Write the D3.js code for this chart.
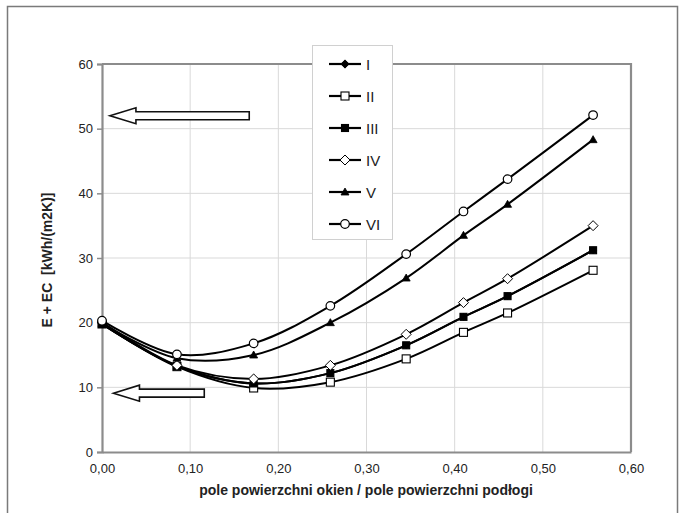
<!DOCTYPE html>
<html>
<head>
<meta charset="utf-8">
<script src="https://cdn.jsdelivr.net/npm/d3@7/dist/d3.min.js"></script>
<style>
  html, body { margin: 0; padding: 0; background: #fff; }
  svg { display: block; font-family: "Liberation Sans", Arial, sans-serif; }
</style>
</head>
<body>
<svg id="chart" width="681" height="513"></svg>
<script>
// Window-to-floor area ratio (x) and E + EC energy demand per series
const ratio = [0, 0.085, 0.172, 0.259, 0.345, 0.41, 0.46, 0.557];
const seriesNames = ["I", "II", "III", "IV", "V", "VI"];
const valuesI   = [19.8, 13.3, 10.6, 12.2, 16.5, 20.9, 24.1, 31.2];
const valuesII  = [19.8, 13.2, 9.9, 10.8, 14.4, 18.5, 21.5, 28.1];
const valuesIII = [19.8, 13.3, 10.6, 12.2, 16.5, 20.9, 24.1, 31.2];
const valuesIV  = [20.1, 13.4, 11.3, 13.4, 18.2, 23.1, 26.8, 35.0];
const valuesV   = [19.9, 14.5, 15.0, 20.0, 26.9, 33.5, 38.3, 48.3];
const valuesVI  = [20.3, 15.1, 16.8, 22.6, 30.6, 37.2, 42.2, 52.1];
const markerKinds = ["diamondFilled", "squareOpen", "squareFilled", "diamondOpen", "triangleFilled", "circleOpen"];
const xTicks = [0, 0.1, 0.2, 0.3, 0.4, 0.5, 0.6];
const yTicks = [0, 10, 20, 30, 40, 50, 60];
const xTitle = "pole powierzchni okien / pole powierzchni podłogi";
const yTitle = "E + EC  [kWh/(m2K)]";
// Arrows pointing at the value axis: [x start, x end, y value]
const arrowSpecs = [[0.009, 0.167, 52.0], [0.013, 0.116, 9.1]];

const allValues = [valuesI, valuesII, valuesIII, valuesIV, valuesV, valuesVI];
const series = seriesNames.map((name, i) => ({
  name, kind: markerKinds[i],
  points: ratio.map((r, j) => ({ x: r, y: allValues[i][j] }))
}));

const svg = d3.select("#chart");
const fmtX = d => d.toFixed(2).replace(".", ",");

const x = d3.scaleLinear().domain([0, 0.6]).range([102, 631]);
const y = d3.scaleLinear().domain([0, 60]).range([452, 64]);

// outer frame of the figure
svg.append("rect")
  .attr("x", 7.5).attr("y", 6.5).attr("width", 670).attr("height", 520)
  .attr("fill", "none").attr("stroke", "#7a7a7a").attr("stroke-width", 1.5);

// gridlines
const grid = svg.append("g");
grid.selectAll("line.gx").data(xTicks.slice(1, -1)).join("line")
  .attr("x1", d => x(d)).attr("x2", d => x(d))
  .attr("y1", y(60)).attr("y2", y(0))
  .attr("stroke", "#d9d9d9").attr("stroke-width", 1);
grid.selectAll("line.gy").data(yTicks.slice(1, -1)).join("line")
  .attr("x1", x(0)).attr("x2", x(0.6))
  .attr("y1", d => y(d)).attr("y2", d => y(d))
  .attr("stroke", "#d9d9d9").attr("stroke-width", 1);

// plot area border (top and right)
svg.append("path")
  .attr("d", `M${x(0)},${y(60)}H${x(0.6)}V${y(0)}`)
  .attr("fill", "none").attr("stroke", "#8c8c8c").attr("stroke-width", 2.2);

// axes
const xAxis = svg.append("g").attr("transform", `translate(0,${y(0)})`)
  .call(d3.axisBottom(x).tickValues(xTicks).tickFormat(fmtX).tickSize(0).tickPadding(12));
const yAxis = svg.append("g").attr("transform", `translate(${x(0)},0)`)
  .call(d3.axisLeft(y).tickValues(yTicks).tickFormat(d3.format("d")).tickSize(5).tickPadding(4));
[xAxis, yAxis].forEach(a => {
  a.select(".domain").attr("stroke", "#8c8c8c").attr("stroke-width", 2.2);
  a.selectAll(".tick line").attr("stroke", "#8c8c8c").attr("stroke-width", 1.5);
  a.selectAll("text").attr("font-family", "'Liberation Sans', Arial, sans-serif")
    .attr("font-size", 13).attr("fill", "#222");
});

// axis titles
svg.append("text")
  .attr("x", 366).attr("y", 495).attr("text-anchor", "middle")
  .attr("font-size", 14).attr("font-weight", "bold").attr("fill", "#222")
  .text(xTitle);
svg.append("text")
  .attr("transform", `translate(52,${(y(0) + y(60)) / 2 + 2}) rotate(-90)`)
  .attr("text-anchor", "middle")
  .attr("font-size", 14).attr("font-weight", "bold").attr("fill", "#222")
  .attr("xml:space", "preserve")
  .text(yTitle);

// hollow arrows
arrowSpecs.forEach(([x0, x1, v]) => {
  const tx = x(x0), ex = x(x1), cy = y(v);
  const hl = 26, hh = 8, sh = 4;
  const d = `M${tx},${cy} L${tx + hl},${cy - hh} L${tx + hl},${cy - sh} L${ex},${cy - sh}` +
            ` L${ex},${cy + sh} L${tx + hl},${cy + sh} L${tx + hl},${cy + hh} Z`;
  svg.append("path").attr("d", d).attr("fill", "#fff")
    .attr("stroke", "#111").attr("stroke-width", 1.6).attr("stroke-linejoin", "miter");
});

// marker drawing
function drawMarker(g, kind, cx, cy, scale = 1) {
  const filled = kind.endsWith("Filled");
  const fill = filled ? "#000" : "#fff";
  if (kind.startsWith("circle")) {
    g.append("circle").attr("cx", cx).attr("cy", cy).attr("r", 4.3)
      .attr("fill", fill).attr("stroke", "#000").attr("stroke-width", 1.2);
  } else if (kind.startsWith("square")) {
    const s = filled ? 7 : 8;
    g.append("rect").attr("x", cx - s / 2).attr("y", cy - s / 2).attr("width", s).attr("height", s)
      .attr("fill", fill).attr("stroke", "#000").attr("stroke-width", 1.1);
  } else if (kind.startsWith("diamond")) {
    const r = (filled ? 3.3 : 5) * scale;
    g.append("path").attr("d", `M${cx},${cy - r}L${cx + r},${cy}L${cx},${cy + r}L${cx - r},${cy}Z`)
      .attr("fill", fill).attr("stroke", "#000").attr("stroke-width", 1);
  } else if (kind.startsWith("triangle")) {
    const r = 4;
    g.append("path").attr("d", `M${cx},${cy - r}L${cx + r},${cy + r * 0.75}L${cx - r},${cy + r * 0.75}Z`)
      .attr("fill", fill).attr("stroke", "#000").attr("stroke-width", 0.8);
  }
}

// smoothed series lines
const line = d3.line().x(d => x(d.x)).y(d => y(d.y)).curve(d3.curveCatmullRom.alpha(0.5));
const plot = svg.append("g");
series.forEach(s => {
  plot.append("path").attr("d", line(s.points))
    .attr("fill", "none").attr("stroke", "#000").attr("stroke-width", 2);
});
series.forEach(s => {
  const g = plot.append("g");
  s.points.forEach(p => drawMarker(g, s.kind, x(p.x), y(p.y)));
});

// legend
const lg = svg.append("g");
lg.append("rect").attr("x", 312.5).attr("y", 45.5).attr("width", 80).attr("height", 194)
  .attr("fill", "#fff").attr("stroke", "#d0d0d0").attr("stroke-width", 1);
series.forEach((s, i) => {
  const cy = 64 + i * 32;
  lg.append("line").attr("x1", 329).attr("x2", 361).attr("y1", cy).attr("y2", cy)
    .attr("stroke", "#000").attr("stroke-width", 2.2);
  drawMarker(lg, s.kind, 345, cy, s.kind === "diamondFilled" ? 1.25 : 1);
  lg.append("text").attr("x", 366).attr("y", cy + 5.5)
    .attr("font-size", 15).attr("fill", "#222").text(s.name);
});
</script>
</body>
</html>
